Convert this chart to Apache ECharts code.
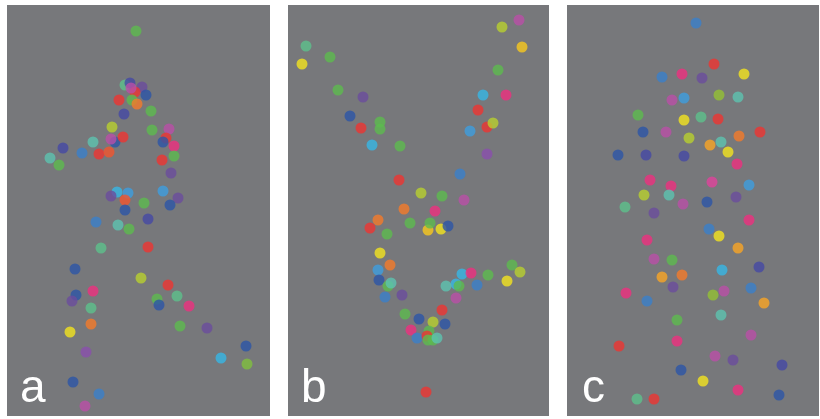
<!DOCTYPE html>
<html>
<head>
<meta charset="utf-8">
<script src="https://cdn.jsdelivr.net/npm/echarts@6/dist/echarts.min.js"></script>
<style>
html,body{margin:0;padding:0;background:#fff;}
#chart{width:820px;height:419px;}
</style>
</head>
<body>
<div id="chart"></div>
<script>
// colour keys
const colors = {
  G: '#5dba4f', G2: '#7fbf3f', G3: '#93c035', TG: '#5dc08c', T: '#5cc3b0',
  LG: '#b8d02f', Y: '#f2e41f', YO: '#f8c81e', O: '#f47a2a', OR: '#f2552e',
  OA: '#f9a526', R: '#ee3432', P: '#ee2f7f', P2: '#e0429c', M: '#b94fa8',
  PV: '#8a4fae', V: '#6a4c9e', IB: '#4548a5', DB: '#2c55a8', B: '#3a7fcb',
  SB: '#3d9ee0', C: '#36b6e6'
};

const panelLabels = ['a', 'b', 'c'];

// panel a points: [x, y, colour]
const pointsA = [
  [136,31,'G'],[125,85,'TG'],[130,83,'IB'],[142,87,'V'],[135,92,'R'],[131,88,'M'],
  [146,95,'DB'],[119,100,'R'],[132,100,'G'],[137,104,'O'],[151,111,'G'],[124,114,'IB'],
  [112,127,'LG'],[152,130,'G'],[169,129,'M'],[166,138,'R'],[163,142,'DB'],[174,146,'P'],
  [115,142,'DB'],[111,139,'M'],[123,137,'R'],[93,142,'T'],[63,148,'IB'],[82,153,'B'],
  [99,154,'R'],[109,152,'OR'],[50,158,'T'],[59,165,'G'],[174,156,'G'],[162,160,'R'],
  [171,173,'V'],[117,192,'C'],[128,193,'SB'],[111,196,'V'],[163,191,'SB'],[178,198,'V'],
  [125,200,'OR'],[144,203,'G'],[170,205,'DB'],[125,210,'DB'],[96,222,'B'],[118,225,'T'],
  [129,229,'G'],[148,219,'IB'],[101,248,'TG'],[148,247,'R'],[75,269,'DB'],[141,278,'LG'],
  [168,285,'R'],[93,291,'P'],[76,295,'DB'],[72,301,'V'],[157,299,'G'],[177,296,'TG'],
  [159,305,'DB'],[189,306,'P'],[91,308,'TG'],[91,324,'O'],[70,332,'Y'],[180,326,'G'],
  [207,328,'V'],[246,346,'DB'],[221,358,'C'],[247,364,'G2'],[86,352,'PV'],[73,382,'DB'],
  [99,394,'B'],[85,406,'M']
];

// panel b points
const pointsB = [
  [306,46,'TG'],[302,64,'Y'],[330,57,'G'],[338,90,'G'],[363,97,'V'],[350,116,'DB'],
  [361,128,'R'],[380,122,'G'],[380,129,'G'],[372,145,'C'],[400,146,'G'],[502,27,'LG'],
  [519,20,'M'],[522,47,'YO'],[498,70,'G'],[483,95,'C'],[506,95,'P'],[478,110,'R'],
  [487,127,'R'],[493,123,'LG'],[470,131,'SB'],[487,154,'PV'],[460,174,'B'],[399,180,'R'],
  [421,193,'LG'],[442,196,'G'],[464,200,'M'],[404,209,'O'],[435,211,'P'],[378,220,'O'],
  [370,228,'R'],[387,234,'G'],[410,223,'G'],[428,230,'YO'],[430,223,'G'],[441,229,'Y'],
  [448,226,'DB'],[380,253,'Y'],[390,265,'O'],[378,270,'SB'],[379,280,'DB'],[388,286,'G'],
  [391,283,'T'],[385,297,'B'],[402,295,'V'],[456,284,'C'],[446,286,'T'],[459,286,'G'],
  [462,274,'C'],[471,273,'P'],[488,275,'G'],[477,285,'B'],[512,265,'G'],[520,272,'LG'],
  [507,281,'Y'],[456,298,'M'],[442,310,'R'],[405,314,'G'],[419,319,'DB'],[445,324,'DB'],
  [433,322,'LG'],[411,330,'P'],[417,338,'B'],[429,331,'G'],[427,336,'R'],[428,340,'G'],
  [433,340,'G'],[437,338,'T'],[426,392,'R']
];

// panel c points
const pointsC = [
  [696,23,'B'],[714,64,'R'],[662,77,'B'],[682,74,'P'],[702,78,'V'],[744,74,'Y'],
  [672,100,'M'],[684,98,'SB'],[719,95,'G3'],[738,97,'T'],[638,115,'G'],[684,120,'Y'],
  [701,117,'TG'],[718,119,'R'],[643,132,'DB'],[666,132,'M'],[689,138,'LG'],[710,145,'OA'],
  [721,142,'T'],[739,136,'O'],[760,132,'R'],[728,152,'Y'],[618,155,'DB'],[646,155,'IB'],
  [684,156,'IB'],[737,164,'P'],[650,180,'P'],[671,186,'P'],[712,182,'P2'],[749,185,'SB'],
  [644,195,'LG'],[669,195,'T'],[707,202,'DB'],[736,197,'V'],[625,207,'TG'],[683,204,'M'],
  [654,213,'V'],[749,220,'P'],[709,229,'B'],[719,236,'Y'],[738,248,'OA'],[647,240,'P'],
  [654,259,'M'],[672,260,'G'],[722,270,'C'],[759,267,'IB'],[662,277,'OA'],[682,275,'O'],
  [673,287,'V'],[626,293,'P'],[647,301,'B'],[713,295,'G3'],[724,291,'M'],[751,288,'B'],
  [764,303,'OA'],[721,315,'T'],[677,320,'G'],[751,335,'M'],[619,346,'R'],[677,341,'P'],
  [715,356,'M'],[733,360,'V'],[782,365,'IB'],[681,370,'DB'],[703,381,'Y'],[738,390,'P'],
  [779,395,'DB'],[637,399,'TG'],[654,399,'R']
];

// panel extents in the picture's own units
const panelX = [[7,270],[288,549],[567,819]];
const panelY = [5,416];

const allPoints = [pointsA, pointsB, pointsC];
const chart = echarts.init(document.getElementById('chart'), null, {renderer:'canvas'});

const grids = [], xAxes = [], yAxes = [], series = [], graphics = [];
panelX.forEach((ext, i) => {
  grids.push({
    left: ext[0], top: panelY[0], width: ext[1]-ext[0], height: panelY[1]-panelY[0],
    show: true, backgroundColor: '#77787b', borderWidth: 0, containLabel: false
  });
  xAxes.push({type:'value', gridIndex:i, min:ext[0], max:ext[1], show:false});
  yAxes.push({type:'value', gridIndex:i, min:panelY[0], max:panelY[1], inverse:true, show:false});
  series.push({
    type:'scatter', xAxisIndex:i, yAxisIndex:i, symbolSize:11,
    data: allPoints[i].map(p => ({value:[p[0],p[1]], itemStyle:{color:colors[p[2]]}})),
    silent:true
  });
  graphics.push({
    type:'text', left: ext[0] + (i===2 ? 15 : 13), top: 366,
    style:{text: panelLabels[i], fill:'#ffffff', font:'46px "Liberation Sans", Arial, sans-serif'}
  });
});

chart.setOption({
  animation:false,
  backgroundColor:'#ffffff',
  grid:grids, xAxis:xAxes, yAxis:yAxes, series:series, graphic:graphics
});
</script>
</body>
</html>
